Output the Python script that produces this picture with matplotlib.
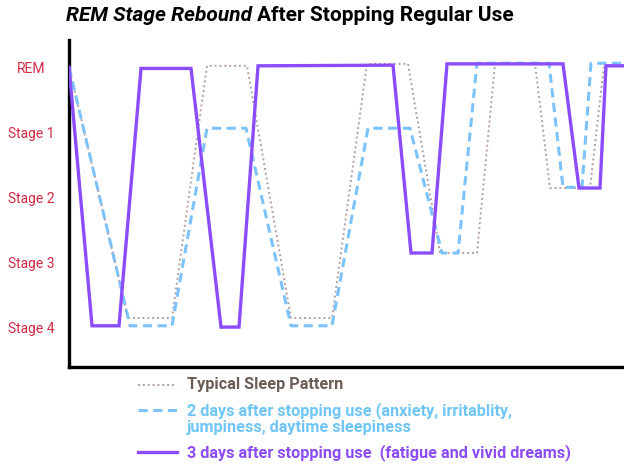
import matplotlib
matplotlib.use('Agg')
import matplotlib.pyplot as plt
from matplotlib.lines import Line2D

plt.rcParams['font.family'] = ['Roboto', 'DejaVu Sans']

# Sleep stage ticks (REM on top, Stage 4 at the bottom)
stage_values = [4, 3, 2, 1, 0]
stage_labels = ['REM', 'Stage 1', 'Stage 2', 'Stage 3', 'Stage 4']

# Typical sleep pattern
typical_x = [0, 59, 103, 138, 178, 222, 263, 298, 339, 371, 408, 426, 466, 481, 521, 535, 555]
typical_y = [4.0, 0.14, 0.14, 4.02, 4.02, 0.14, 0.14, 4.05, 4.05, 1.14, 1.14, 4.05, 4.05, 2.14, 2.14, 4.03, 4.03]

# 2 days after stopping use
day2_x = [0, 61, 103, 138, 177, 222, 263, 299, 341, 373, 389, 408, 480, 494, 513, 522, 555]
day2_y = [4.0, 0.02, 0.02, 3.06, 3.06, 0.02, 0.02, 3.06, 3.06, 1.14, 1.14, 4.06, 4.06, 2.15, 2.15, 4.06, 4.06]

# 3 days after stopping use
day3_x = [0, 23, 50, 72, 122, 152, 170, 189, 324, 342, 363, 378, 494, 510, 531, 537, 555]
day3_y = [4.0, 0.02, 0.02, 3.98, 3.98, 0.0, 0.0, 4.02, 4.03, 1.14, 1.14, 4.05, 4.05, 2.14, 2.14, 4.02, 4.02]

legend_labels = ['Typical Sleep Pattern',
                 '2 days after stopping use (anxiety, irritablity,\njumpiness, daytime sleepiness',
                 '3 days after stopping use  (fatigue and vivid dreams)']

C_TYP = '#b39ea3'
C_D2 = '#7cc3fb'
C_D3 = '#8b4dfb'
C_TYP_TXT = '#6b5d57'
C_D2_TXT = '#6ec5f6'
C_D3_TXT = '#8b4cf6'
C_TICK = '#d22a44'

fig = plt.figure(figsize=(6.24, 4.67), dpi=100)
ax = fig.add_axes([0.1106, 0.214, 0.8894, 0.7])

ax.plot(typical_x, typical_y, color=C_TYP, lw=1.4, ls=(0, (1, 1.5)), zorder=3)
ax.plot(day2_x, day2_y, color=C_D2, lw=2.2, ls=(0, (3, 1.8)), zorder=3)
ax.plot(day3_x, day3_y, color=C_D3, lw=2.4, solid_joinstyle='miter', zorder=3)

ax.set_xlim(0, 555)
ax.set_ylim(-0.615, 4.415)
ax.set_xticks([])
ax.set_yticks(stage_values)
ax.set_yticklabels(stage_labels, color=C_TICK, fontsize=10, ha='center')
ax.tick_params(axis='y', length=0, pad=27)
for s in ['top', 'right']:
    ax.spines[s].set_visible(False)
for s in ['left', 'bottom']:
    ax.spines[s].set_linewidth(2.4)
    ax.spines[s].set_color('black')

# Title: italic first part, regular bold second part
t1 = fig.text(0.106, 0.967, 'REM Stage Rebound', fontsize=15, fontweight='bold',
              style='italic', va='center', ha='left')
fig.canvas.draw()
bb = t1.get_window_extent()
fig.text(bb.x1 / fig.bbox.width + 0.008, 0.967, 'After Stopping Regular Use',
         fontsize=15, fontweight='bold', va='center', ha='left')

# Manual legend
lx0, lx1, tx = 0.221, 0.283, 0.300
rows = [(0.176, 0.176, C_TYP, (0, (1, 1.5)), 1.4, C_TYP_TXT),
        (0.122, 0.140, C_D2, (0, (3, 1.8)), 2.2, C_D2_TXT),
        (0.032, 0.032, C_D3, '-', 2.4, C_D3_TXT)]
for (y, ty, c, ls, lw, tc), lab in zip(rows, legend_labels):
    fig.add_artist(Line2D([lx0, lx1], [y, y], transform=fig.transFigure,
                          color=c, ls=ls, lw=lw))
    fig.text(tx, ty, lab, color=tc, fontsize=11.7, fontweight='bold',
             va='top' if '\n' in lab else 'center', ha='left',
             linespacing=1.08)

fig.savefig('out.png', dpi=100)
